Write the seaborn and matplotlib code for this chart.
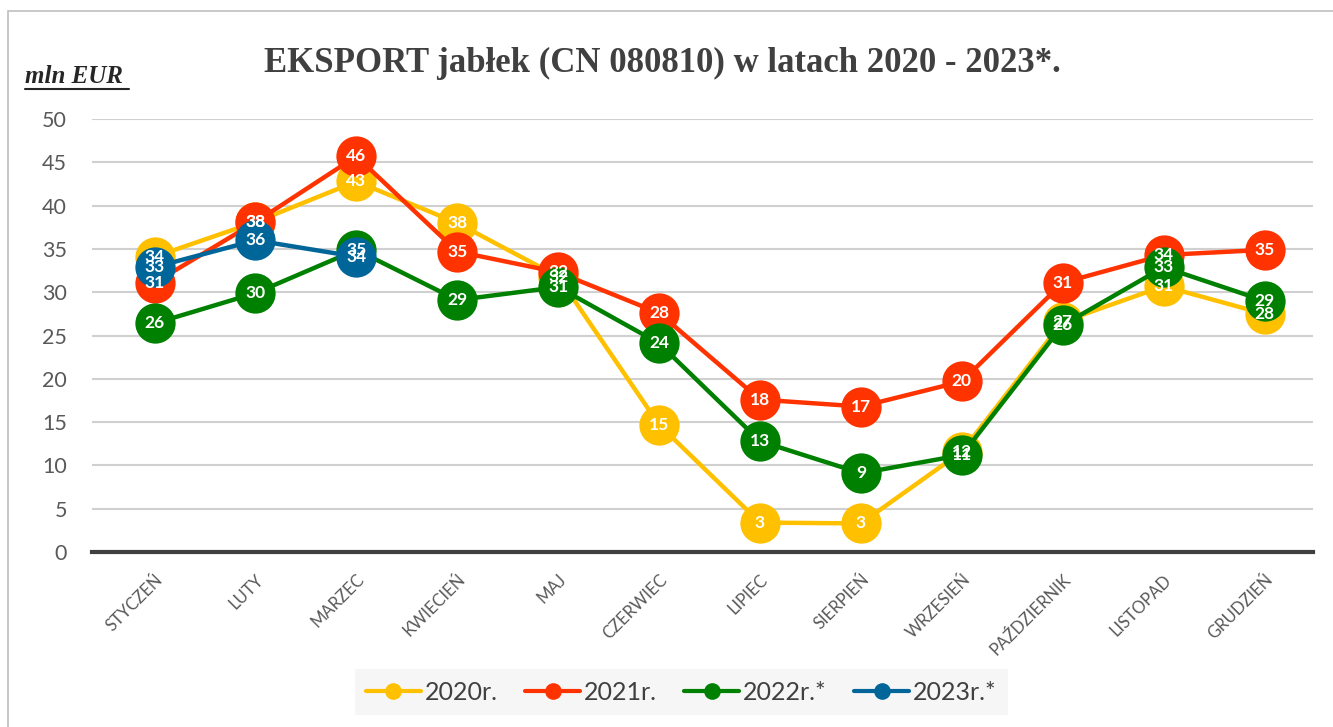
import numpy as np
import pandas as pd
import seaborn as sns
import matplotlib.pyplot as plt
from matplotlib.patches import Rectangle

# Miesiące i wartości eksportu (mln EUR)
months = ["STYCZEŃ", "LUTY", "MARZEC", "KWIECIEŃ", "MAJ", "CZERWIEC", "LIPIEC",
          "SIERPIEŃ", "WRZESIEŃ", "PAŹDZIERNIK", "LISTOPAD", "GRUDZIEŃ"]
y2020 = [34.1, 38.1, 42.8, 38.0, 31.8, 14.7, 3.4, 3.3, 11.6, 26.6, 30.7, 27.5]
y2021 = [31.1, 38.1, 45.7, 34.7, 32.3, 27.6, 17.6, 16.8, 19.7, 31.1, 34.3, 34.9]
y2022 = [26.4, 29.9, 34.9, 29.1, 30.6, 24.1, 12.8, 9.1, 11.2, 26.2, 32.9, 29.0]
y2023 = [32.9, 36.0, 34.1]
series_names = ["2020r.", "2021r.", "2022r.*", "2023r.*"]
colors = ["#FFC000", "#FF3300", "#008000", "#006699"]

frames = []
for name, vals in zip(series_names, [y2020, y2021, y2022, y2023]):
    frames.append(pd.DataFrame({"idx": np.arange(len(vals)), "val": vals, "rok": name}))
df = pd.concat(frames, ignore_index=True)

sns.set_theme(style="white")
plt.rcParams["font.family"] = ["Lato", "DejaVu Sans"]

fig = plt.figure(figsize=(13.33, 7.27), dpi=100)
ax = fig.add_axes([0.069, 0.2407, 0.916, 0.5955])

# obramowanie wykresu
fig.patches.append(Rectangle((0.006, -0.1), 1.1, 1.085, transform=fig.transFigure,
                             fill=False, edgecolor="#bfbfbf", linewidth=1.2))

for i, (name, color) in enumerate(zip(series_names, colors)):
    sub = df[df["rok"] == name]
    sns.lineplot(data=sub, x="idx", y="val", ax=ax, color=color, linewidth=3.2,
                 marker="o", markersize=29, markeredgewidth=0, label=name,
                 sort=False, zorder=3 + i)

for i, name in enumerate(series_names):
    sub = df[df["rok"] == name]
    for x, v in zip(sub["idx"], sub["val"]):
        ax.text(x, v, f"{v:.0f}", ha="center", va="center", color="white",
                fontsize=12.5, fontweight="bold", zorder=20)

ax.set_ylim(0, 50)
ax.set_xlim(-0.62, 11.48)
ax.set_yticks(range(0, 51, 5))
ax.set_xticks(range(len(months)))
ax.set_xticklabels(months, rotation=45, ha="right", rotation_mode="anchor",
                   fontsize=12, color="#595959")
ax.tick_params(axis="y", labelsize=15.5, colors="#595959", pad=12)
ax.tick_params(axis="x", pad=8)
ax.yaxis.grid(True, color="#d0d0d0", linewidth=1.5, zorder=0)
ax.set_axisbelow(True)
for s in ["top", "right", "left"]:
    ax.spines[s].set_visible(False)
ax.spines["bottom"].set_color("#404040")
ax.spines["bottom"].set_linewidth(3)
ax.set_xlabel("")
ax.set_ylabel("")

fig.text(0.497, 0.912, "EKSPORT jabłek (CN 080810) w latach 2020 - 2023*.",
         ha="center", va="center", fontsize=25, fontweight="bold",
         color="#404040", family="Liberation Serif")
fig.text(0.019, 0.886, "mln EUR", ha="left", va="baseline", fontsize=18,
         fontweight="bold", style="italic", family="Liberation Serif",
         color="#262626")
fig.add_artist(plt.Line2D([0.019, 0.097], [0.877, 0.877], color="#262626",
                          linewidth=1.5, transform=fig.transFigure))

leg = ax.legend(loc="center", bbox_to_anchor=(0.511, 0.048),
                bbox_transform=fig.transFigure, ncol=4, fontsize=18,
                frameon=True, facecolor="#f4f4f4", edgecolor="none",
                handlelength=2.2, handletextpad=0.15, columnspacing=1.1,
                borderpad=0.45, fancybox=False)
for h in leg.legend_handles:
    h.set_markersize(12)
    h.set_linewidth(3)
for txt in leg.get_texts():
    txt.set_color("#404040")

fig.savefig("out.png", dpi=100)
